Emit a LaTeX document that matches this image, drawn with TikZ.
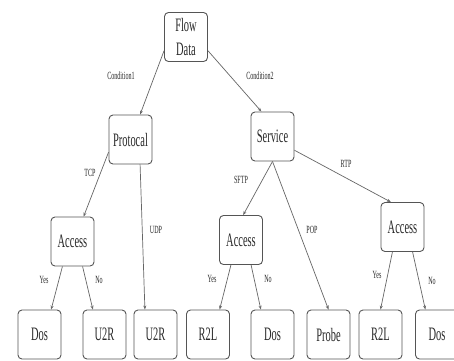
\documentclass[tikz,border=0pt]{standalone}
\usepackage{fontspec}
\setmainfont[FakeStretch=0.55]{Liberation Serif}
\usepackage{xcolor}
\definecolor{boxLine}{HTML}{555555}
\definecolor{edgeLine}{HTML}{666666}
\definecolor{txtDark}{HTML}{2A2A2A}
\usetikzlibrary{arrows.meta}

\tikzset{
  treebox/.style={draw=boxLine, line width=0.9pt, rounded corners=4pt, fill=white,
    minimum width=43pt, minimum height=49pt, inner sep=1pt, align=center,
    text=txtDark, font=\fontsize{19}{19}\selectfont},
  branch/.style={draw=edgeLine, line width=0.7pt, -{Stealth[length=4pt,width=3pt]}},
  cond/.style={text=txtDark, font=\fontsize{11}{11}\selectfont, inner sep=0pt}
}

\begin{document}
\begin{tikzpicture}[x=1pt, y=-1pt]
  \clip (0,0) rectangle (454,360);
  \fill[white] (0,0) rectangle (454,360);
  \node[treebox] (flow) at (186,37) {Flow\\[5pt]Data};
  \node[treebox] (proto) at (130.5,139.5) {Protocal};
  \node[treebox] (serv) at (272.5,136.5) {Service};
  \node[treebox] (accA) at (72.5,241.5) {Access};
  \node[treebox] (accB) at (241,240) {Access};
  \node[treebox] (accC) at (402.5,227) {Access};
  \node[treebox] (dosA) at (39.5,334.5) {Dos};
  \node[treebox] (utrA) at (104.5,334.5) {U2R};
  \node[treebox] (utrB) at (155.5,334.5) {U2R};
  \node[treebox] (rtlA) at (208,334.5) {R2L};
  \node[treebox] (dosB) at (272.5,334.5) {Dos};
  \node[treebox] (probe) at (328.5,334.5) {Probe};
  \node[treebox] (rtlB) at (380.5,334.5) {R2L};
  \node[treebox] (dosC) at (437,334.5) {Dos};

  \draw[branch] (flow.212) -- (proto.69);
  \draw[branch] (flow.-32) -- (serv.114);
  \draw[branch] (proto.210) -- (accA.66);
  \draw[branch] (proto.-69) -- (utrB.113);
  \draw[branch] (serv.south) -- (accB.85);
  \draw[branch] (serv.south) -- (probe.north);
  \draw[branch] (serv.-32) -- (accC.115);
  \draw[branch] (accA.-112) -- (dosA.65);
  \draw[branch] (accA.-68) -- (utrA.115);
  \draw[branch] (accB.-112) -- (rtlA.65);
  \draw[branch] (accB.-68) -- (dosB.115);
  \draw[branch] (accC.-112) -- (rtlB.north);
  \draw[branch] (accC.-68) -- (dosC.115);

  \node[cond] (cOne) at (121,76) {Condition1};
  \node[cond] (cTwo) at (260,76) {Condition2};
  \node[cond] (tcp) at (90,173) {TCP};
  \node[cond] (udp) at (156,230) {UDP};
  \node[cond] (sftp) at (241,180) {SFTP};
  \node[cond] (pop) at (312,230) {POP};
  \node[cond] (rtp) at (346,164) {RTP};
  \node[cond] (yesA) at (44,280) {Yes};
  \node[cond] (noA) at (99,280) {No};
  \node[cond] (yesB) at (212,279) {Yes};
  \node[cond] (noB) at (268,279) {No};
  \node[cond] (yesC) at (377,275) {Yes};
  \node[cond] (noC) at (432,281) {No};
\end{tikzpicture}
\end{document}
